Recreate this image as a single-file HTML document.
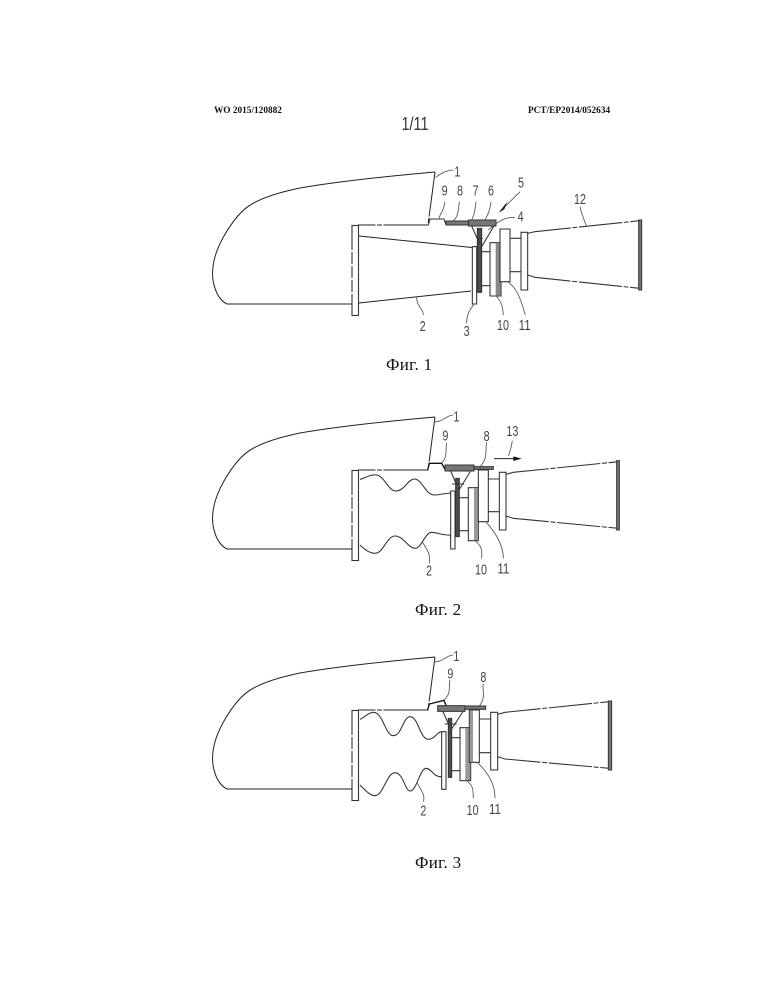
<!DOCTYPE html>
<html><head><meta charset="utf-8">
<style>
html,body{margin:0;padding:0;background:#fff}
svg{display:block}
.l{font-family:"Liberation Sans",sans-serif;font-size:44px;fill:#444;text-anchor:middle}
.c{font-family:"Liberation Serif",serif;font-size:17px;fill:#111;letter-spacing:.3px}
.h{font-family:"Liberation Serif",serif;font-size:9.3px;font-weight:bold;fill:#111}
.o{fill:none;stroke:#222;stroke-width:1}
.a{stroke-dasharray:45 1.5 5 1.5}
.z{fill:none;stroke:#333;stroke-width:3.2}
.w{fill:#fff;stroke:#333;stroke-width:3.2}
.g{fill:#777;stroke:#333;stroke-width:3}
.d{fill:#4c4c4c;stroke:#333;stroke-width:3}
.t{fill:none;stroke:#555;stroke-width:2.6}
.da{stroke-dasharray:130 5 15 5}
</style></head>
<body>
<svg width="772" height="999" viewBox="0 0 772 999" xmlns="http://www.w3.org/2000/svg">
<rect width="772" height="999" fill="#fff"/>
<defs>
<g id="outline">
<path class="o" d="M213 280C211 265 216 250 224 236C232 222 241 210 252 204C262 198 276 193 300 188C340 181 390 176 435 172"/>
<path class="o" d="M352 304H227C219 300 215 292 213 280"/>
<path class="o a" d="M435 172L428 225H358"/>
<rect x="352" y="225.5" width="6.5" height="90" fill="#fff" stroke="#333" stroke-width="1.1"/>
<path d="M352 250v2M352 264v2M352 278v2M352 292v2" stroke="#fff" stroke-width="1.2"/>
</g>
</defs>

<text class="h" x="214" y="113">WO 2015/120882</text>
<text class="h" x="528" y="113">PCT/EP2014/052634</text>
<text x="401.5" y="130" font-family="'Liberation Sans',sans-serif" font-size="18" fill="#333" textLength="27" lengthAdjust="spacingAndGlyphs">1/11</text>

<!-- FIG 1 -->
<use href="#outline"/>
<path class="o" d="M359 236L472 247.5M359 303L471 291"/>
<g transform="translate(420,160) scale(.33333)">
<path class="w" d="M157 260h13v172h-13z"/>
<path class="d" d="M172 205h13v192h-13z"/>
<path class="z" d="M185 275H210M185 377H210M270 235H303M270 335H303"/>
<path class="g" d="M145 180h83v18h-83z"/>
<path class="g" d="M78 183h67v12h-67z"/>
<path class="z" d="M25 195L30 177H72L78 195"/>
<path class="z" d="M155 198L178 250M222 198L182 265"/>
<path class="z" d="M172 235H188"/>
<path class="w" d="M210 248h33v160h-33z"/>
<rect x="227" y="250" width="14" height="156" fill="#888"/>
<path class="w" d="M240 207h30v158h-30z"/>
<path class="w" d="M303 217h20v173h-20z"/>
<path class="z da" d="M323 220L345 215L660 182M323 345L345 352L660 385"/>
<path class="g" d="M656 180h9v210h-9z"/>
<path class="t" d="M47 52C70 35 85 30 102 30M58 175C58 160 70 160 75 125M100 182C115 170 115 150 118 125M155 180C165 160 165 145 168 125M195 178C205 165 210 150 213 125M205 210C230 190 250 170 285 172M240 155L300 95M480 140C485 165 495 185 500 200M140 490C140 460 150 450 162 432M262 365C295 385 305 430 316 465M228 408C250 430 248 450 250 465"/>
<path d="M236 158L262 125L253 148Z" fill="#222"/>
<text class="l" x="112" y="50" textLength="18" lengthAdjust="spacingAndGlyphs">1</text><text class="l" x="74" y="107" textLength="18" lengthAdjust="spacingAndGlyphs">9</text><text class="l" x="120" y="107" textLength="18" lengthAdjust="spacingAndGlyphs">8</text><text class="l" x="167" y="107" textLength="18" lengthAdjust="spacingAndGlyphs">7</text><text class="l" x="213" y="107" textLength="18" lengthAdjust="spacingAndGlyphs">6</text><text class="l" x="303" y="82" textLength="18" lengthAdjust="spacingAndGlyphs">5</text><text class="l" x="302" y="184" textLength="18" lengthAdjust="spacingAndGlyphs">4</text><text class="l" x="480" y="132" textLength="36" lengthAdjust="spacingAndGlyphs">12</text><text class="l" x="140" y="528" textLength="18" lengthAdjust="spacingAndGlyphs">3</text><text class="l" x="249" y="510" textLength="36" lengthAdjust="spacingAndGlyphs">10</text><text class="l" x="314" y="510" textLength="36" lengthAdjust="spacingAndGlyphs">11</text>
</g>
<g transform="translate(200,150) scale(.33333)">
<path class="t" d="M650 442C650 470 672 480 670 495"/>
<text class="l" x="668" y="543" textLength="18" lengthAdjust="spacingAndGlyphs">2</text>
</g>
<text class="c" x="386" y="370">Фиг. 1</text>

<!-- FIG 2 -->
<use href="#outline" y="245"/>
<g transform="translate(340,410) scale(.33333)">
<path class="z" d="M60 208C75 205 90 192 110 195C135 200 145 245 170 243C195 240 205 205 225 207C250 212 255 255 285 255C305 255 315 248 332 250"/>
<path class="z" d="M60 405C75 420 90 430 105 430C130 430 140 378 165 378C190 378 205 415 225 415C245 415 255 367 275 367C295 367 305 378 332 375"/>
<path class="w" d="M332 243h13v174h-13z"/>
<path class="d" d="M347 205h11v175h-11z"/>
<path class="z" d="M358 263H385M358 362H385M445 207H478M445 305H478"/>
<path class="g" d="M315 165h87v18h-87z"/>
<path class="g" d="M402 170h58v8h-58z"/>
<path d="M263 180L268 160H305L315 178" fill="none" stroke="#111" stroke-width="4"/>
<path class="z" d="M332 183L350 225M392 183L357 240M336 222H372"/>
<path class="w" d="M385 233h30v159h-30z"/>
<rect x="402" y="235" width="12" height="155" fill="#999"/>
<path class="w" d="M415 180h30v155h-30z"/>
<path class="w" d="M478 187h20v173h-20z"/>
<path class="z da" d="M498 193L520 187L835 155M498 318L520 325L835 355"/>
<path class="g" d="M830 152h8v208h-8z"/>
<path class="t" d="M284 36C310 35 320 15 340 15M305 158C325 140 315 115 320 98M420 170C445 145 435 120 440 97M248 398C270 430 270 440 268 460M405 392C430 410 425 430 425 445M437 335C470 370 490 410 490 445"/>
<path class="t" d="M505 138C512 120 515 105 517 92"/>
<path d="M462 146H525" stroke="#222" stroke-width="3"/>
<path d="M520 139L545 146L520 153Z" fill="#111"/>
<text class="l" x="349" y="34" textLength="18" lengthAdjust="spacingAndGlyphs">1</text><text class="l" x="316" y="92" textLength="18" lengthAdjust="spacingAndGlyphs">9</text><text class="l" x="440" y="93" textLength="18" lengthAdjust="spacingAndGlyphs">8</text><text class="l" x="517" y="78" textLength="36" lengthAdjust="spacingAndGlyphs">13</text><text class="l" x="267" y="497" textLength="18" lengthAdjust="spacingAndGlyphs">2</text><text class="l" x="423" y="493" textLength="36" lengthAdjust="spacingAndGlyphs">10</text><text class="l" x="490" y="491" textLength="36" lengthAdjust="spacingAndGlyphs">11</text>
</g>
<text class="c" x="415" y="615">Фиг. 2</text>

<!-- FIG 3 -->
<use href="#outline" y="485"/>
<g transform="translate(340,650) scale(.33333)">
<path class="z" d="M60 208C70 205 85 187 100 187C130 187 135 257 160 257C185 257 190 200 210 200C235 200 240 268 265 268C285 268 290 245 305 245"/>
<path class="z" d="M60 405C75 420 90 437 105 437C130 437 140 368 165 368C190 368 195 423 210 423C230 423 240 355 258 355C275 355 280 382 305 380"/>
<path class="w" d="M305 245h13v173h-13z"/>
<path class="d" d="M325 205h10v177h-10z"/>
<path class="z" d="M335 263H360M335 362H360M418 207H452M418 308H452"/>
<path class="g" d="M293 167h82v17h-82z"/>
<path class="g" d="M375 168h62v10h-62z"/>
<path d="M263 180L268 162L312 151L318 166" fill="none" stroke="#111" stroke-width="4"/>
<path class="z" d="M308 183L327 225M370 183L333 240M314 222H350"/>
<path class="w" d="M360 233h32v159h-32z"/>
<rect x="376" y="235" width="14" height="155" fill="#999"/>
<path class="w" d="M388 180h30v157h-30z"/>
<rect x="390" y="182" width="9" height="153" fill="#999"/>
<path class="w" d="M452 187h21v173h-21z"/>
<path class="z da" d="M473 193L495 187L808 155M473 320L495 327L808 355"/>
<path class="g" d="M805 153h10v207h-10z"/>
<path class="t" d="M284 36C310 35 320 15 340 15M312 150C335 130 325 110 330 90M418 168C440 140 425 120 430 100M232 400C250 430 255 440 250 455M380 392C405 410 398 430 400 445M412 337C445 370 465 400 465 445"/>
<text class="l" x="349" y="33" textLength="18" lengthAdjust="spacingAndGlyphs">1</text><text class="l" x="331" y="85" textLength="18" lengthAdjust="spacingAndGlyphs">9</text><text class="l" x="430" y="96" textLength="18" lengthAdjust="spacingAndGlyphs">8</text><text class="l" x="250" y="497" textLength="18" lengthAdjust="spacingAndGlyphs">2</text><text class="l" x="398" y="495" textLength="36" lengthAdjust="spacingAndGlyphs">10</text><text class="l" x="465" y="492" textLength="36" lengthAdjust="spacingAndGlyphs">11</text>
</g>
<text class="c" x="415" y="868">Фиг. 3</text>
</svg>
</body></html>
